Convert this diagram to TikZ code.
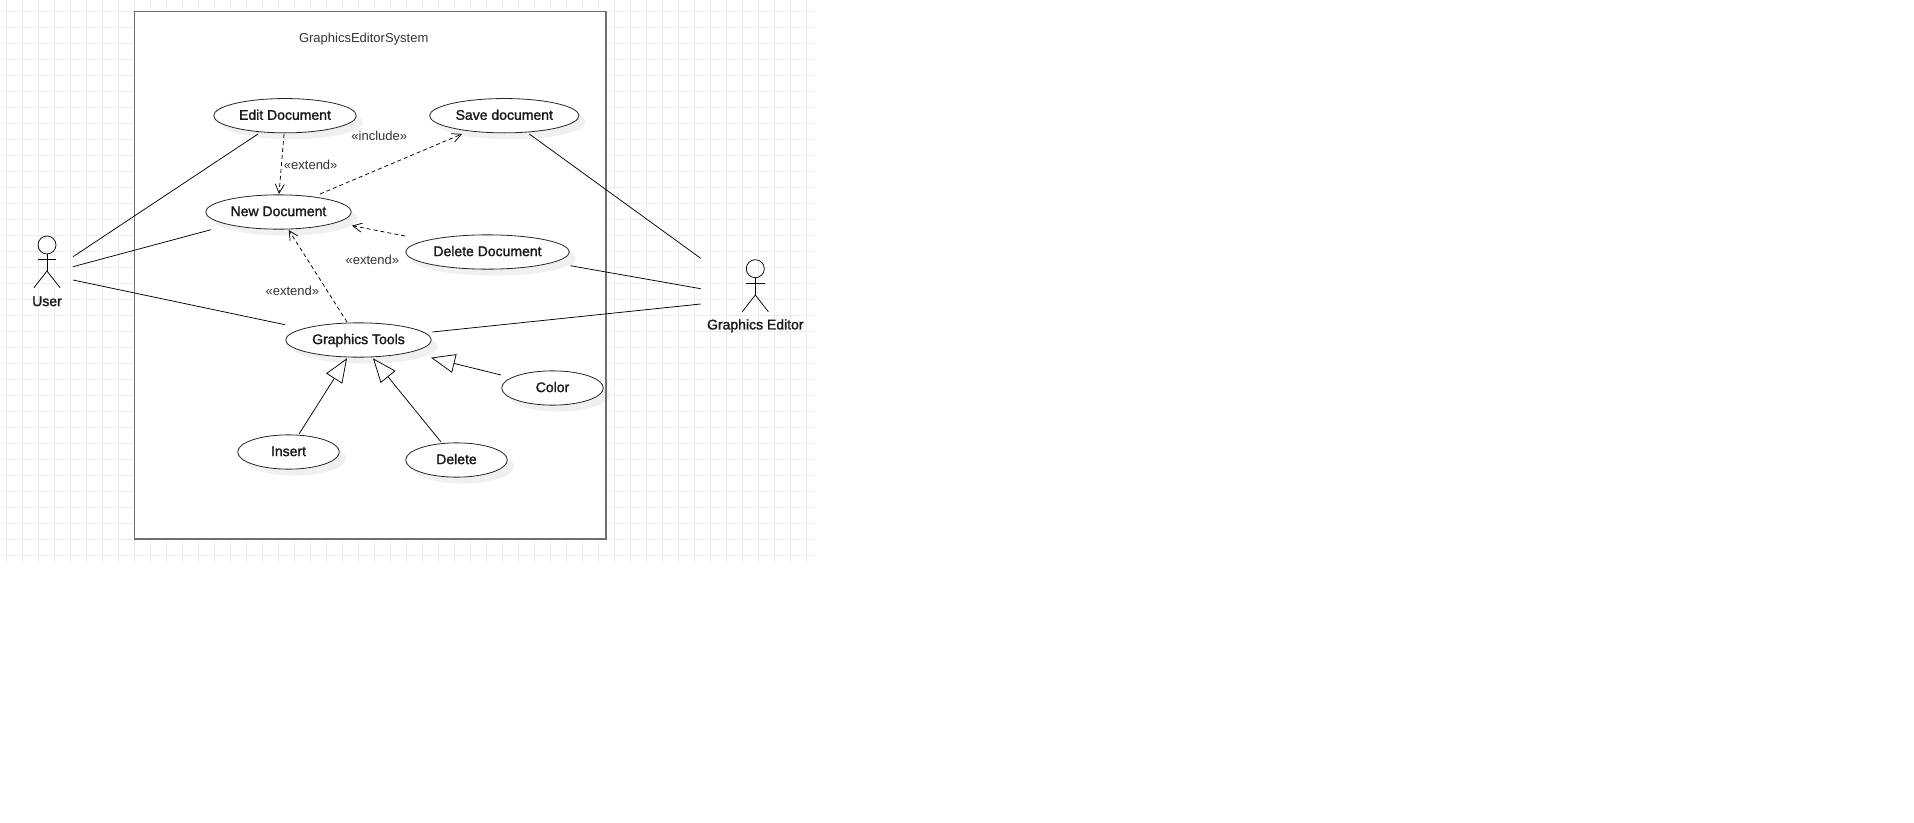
\documentclass[tikz,border=0pt]{standalone}
\usepackage{fontspec}
\setmainfont{Liberation Sans}
\newfontfamily\semibold[FakeBold=1.5]{Liberation Sans}
\usetikzlibrary{shapes.geometric,shadows,arrows.meta}
\definecolor{gridc}{HTML}{EEEEEE}
\definecolor{boxc}{HTML}{707070}
\definecolor{shadowc}{HTML}{F0F0F0}
\definecolor{labelc}{HTML}{333333}
\tikzset{
  x=1pt,y=-1pt,
  gridline/.style={draw=gridc,line width=1pt},
  sysbox/.style={draw=boxc,line width=1.6pt},
  usecase/.style={ellipse,draw=black!85,fill=white,line width=0.8pt,inner sep=0pt,outer sep=0pt,
    minimum width=#1,minimum height=34.3pt,text height=11pt,text depth=2.8pt,
    font=\semibold\fontsize{14}{16}\selectfont,text=black!90,
    drop shadow={shadow xshift=6.5pt,shadow yshift=-6.5pt,fill=shadowc,opacity=1,draw=none}},
  assoc/.style={draw=black,line width=0.75pt},
  dep/.style={draw=black,line width=0.75pt,dash pattern=on 4pt off 3pt,
    -{Straight Barb[length=9pt,width=9pt,line width=0.75pt]}},
  gen/.style={draw=black,line width=0.75pt,
    -{Triangle[open,fill=white,length=24pt,width=19pt,line width=0.75pt]}},
  stereo/.style={font=\fontsize{13}{15}\selectfont,text=labelc,inner sep=0pt},
  actorlabel/.style={font=\semibold\fontsize{14}{16}\selectfont,text=black!90,inner sep=0pt},
  stick/.style={draw=black,line width=0.75pt},
  head/.style={circle,draw=black,line width=0.75pt,minimum size=18pt,inner sep=0pt,outer sep=0pt},
}
\begin{document}
\begin{tikzpicture}
\useasboundingbox (0,0) rectangle (1914,822);
\fill[white] (0,0) rectangle (1914,822);
% grid
\foreach \k in {0,...,50} \draw[gridline] ({6.5+16*\k},0) -- ({6.5+16*\k},563);
\foreach \k in {0,...,34} \draw[gridline] (0,{11.5+16*\k}) -- (815,{11.5+16*\k});
% system boundary
\fill[white] (134.3,11.3) rectangle (606,538.7);
\node[font=\fontsize{13}{15}\selectfont,text=labelc,inner sep=0pt] (systitle) at (363.7,39.2) {GraphicsEditorSystem};
% use cases
\node[usecase=142.6pt] (edit) at (285,115.7) {Edit Document};
\node[usecase=145.6pt] (new) at (278.5,212) {New Document};
\node[usecase=149.3pt] (save) at (504.3,115.7) {Save document};
\node[usecase=163.6pt] (deldoc) at (487.5,252) {Delete Document};
\node[usecase=145.6pt] (tools) at (358.5,340) {Graphics Tools};
\node[usecase=101.6pt] (color) at (552.5,388) {Color};
\node[usecase=101.6pt] (insert) at (288.5,452) {Insert};
\node[usecase=101.6pt] (delete) at (456.5,460) {Delete};
\draw[sysbox] (134.3,11.3) rectangle (606,538.7);
% actors
\node[head] (userhead) at (47,245) {};
\draw[stick] (userhead.south) -- (47,271) coordinate (userhip);
\draw[stick] (38,259.3) -- (56.3,259.3);
\draw[stick] (34,287.7) -- (userhip) -- (60,287.7);
\node[actorlabel] (user) at (47,301.3) {User};
\node[head] (gehead) at (755.3,268.7) {};
\draw[stick] (gehead.south) -- (755.3,295) coordinate (gehip);
\draw[stick] (746,283.7) -- (764.7,283.7);
\draw[stick] (742.3,311.7) -- (gehip) -- (768.3,311.7);
\node[actorlabel] (ge) at (755.3,325.8) {Graphics Editor};
\coordinate (userA) at (73,256.7);
\coordinate (userB) at (73,266.7);
\coordinate (userC) at (73,280);
\coordinate (geA) at (700.7,258.3);
\coordinate (geB) at (700.7,288.7);
\coordinate (geC) at (700.7,304);
% associations
\draw[assoc] (userA) -- ([shift={(-27,18.3)}]edit.center);
\draw[assoc] (userB) -- ([shift={(-67.5,17.7)}]new.center);
\draw[assoc] (userC) -- ([shift={(-73.5,-15.3)}]tools.center);
\draw[assoc] ([shift={(25,18.3)}]save.center) -- (geA);
\draw[assoc] ([shift={(82.8,13.7)}]deldoc.center) -- (geB);
\draw[assoc] ([shift={(73.8,-8)}]tools.center) -- (geC);
% dependencies
\draw[dep] ([shift={(-1,18.3)}]edit.center) -- ([shift={(0.5,-18)}]new.center);
\draw[dep] ([shift={(41.5,-18)}]new.center) -- ([shift={(-42.3,18.3)}]save.center);
\draw[dep] ([shift={(-82.5,-16)}]deldoc.center) -- ([shift={(73.5,13.7)}]new.center);
\draw[dep] ([shift={(-11.5,-18)}]tools.center) -- ([shift={(10.2,18)}]new.center);
% generalisations
\draw[gen] ([shift={(10.5,-18)}]insert.center) -- ([shift={(-11.5,18.3)}]tools.center);
\draw[gen] ([shift={(-15.5,-18)}]delete.center) -- ([shift={(14.5,18.3)}]tools.center);
\draw[gen] ([shift={(-51.5,-13)}]color.center) -- ([shift={(72.5,17.7)}]tools.center);
% stereotypes
\node[stereo] (l1) at (379.3,136) {«include»};
\node[stereo] (l2) at (310.7,165.3) {«extend»};
\node[stereo] (l3) at (372.3,260) {«extend»};
\node[stereo] (l4) at (292.3,291) {«extend»};
\end{tikzpicture}
\end{document}
